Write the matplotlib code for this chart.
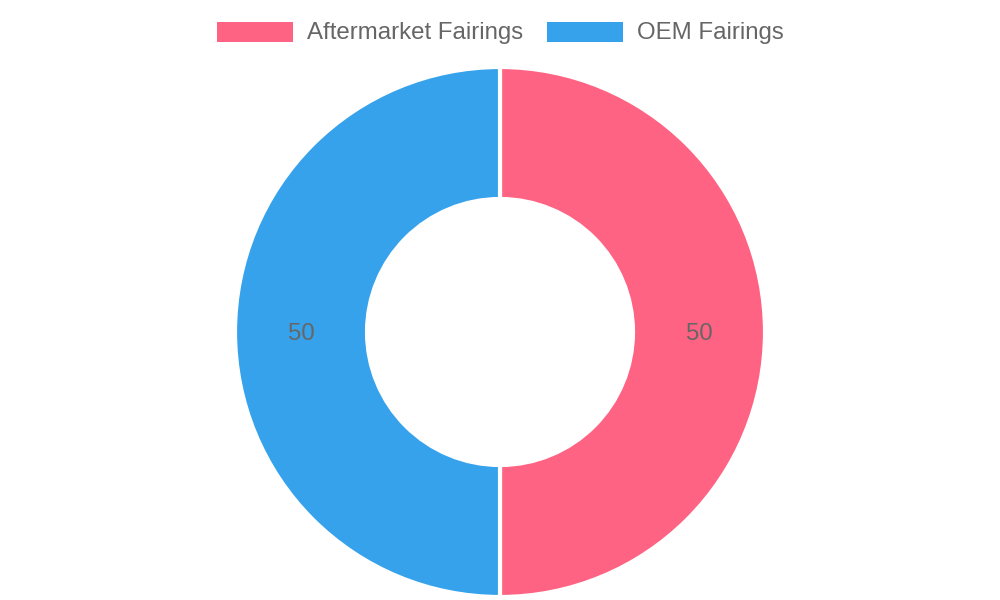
import numpy as np
import matplotlib.pyplot as plt
from matplotlib.patches import Rectangle

labels = ['Aftermarket Fairings', 'OEM Fairings']
values = [50, 50]
colors = ['#FF6384', '#36A2EB']

plt.rcParams['font.family'] = ['Liberation Sans', 'DejaVu Sans']

fig = plt.figure(figsize=(10, 6), dpi=100)
ax = fig.add_axes([0, 0, 1, 1])

cx, cy = 500, 332
r_out, r_in = 265, 133

wedges, _ = ax.pie(values, colors=colors, startangle=90, counterclock=False,
                   center=(cx, cy), radius=r_out, frame=True,
                   wedgeprops=dict(width=r_out - r_in, edgecolor='white', linewidth=3))
# y axis is inverted below, so mirror the wedges back
for w in wedges:
    th1, th2 = w.theta1, w.theta2
    w.set_theta1(-th2)
    w.set_theta2(-th1)

ax.set_xlim(0, 1000)
ax.set_ylim(600, 0)
ax.set_aspect('equal')
ax.axis('off')

r_mid = (r_out + r_in) / 2
start = 90.0
total = sum(values)
for v in values:
    ang = start - v / total * 360 / 2
    x = cx + r_mid * np.cos(np.radians(ang))
    y = cy - r_mid * np.sin(np.radians(ang))
    ax.text(x, y + 2, str(v), ha='center', va='center', fontsize=17.3, color='#666666')
    start -= v / total * 360

# legend
box_x = [217, 547]
for bx, lab, col in zip(box_x, labels, colors):
    ax.add_patch(Rectangle((bx, 22), 76, 20, facecolor=col, edgecolor='none'))
    ax.text(bx + 90, 33, lab, ha='left', va='center', fontsize=17.3, color='#666666')

fig.savefig('out.png', dpi=100)
